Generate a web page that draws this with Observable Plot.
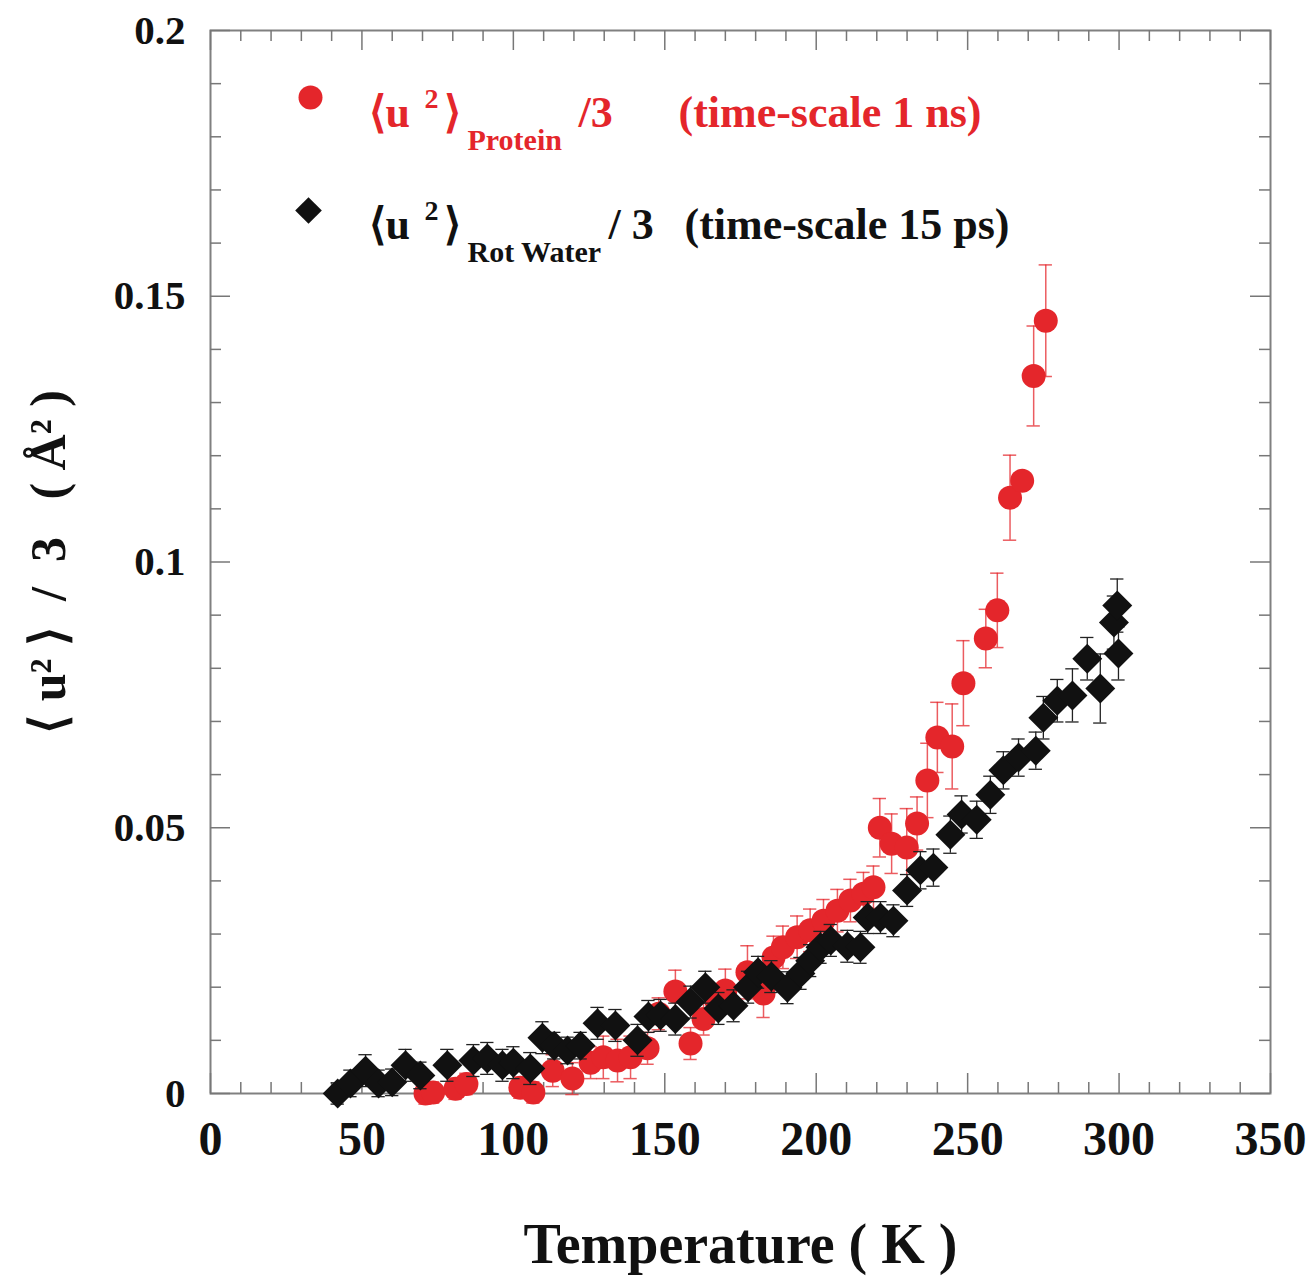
<!DOCTYPE html>
<html>
<head>
<meta charset="utf-8">
<script src="https://cdn.jsdelivr.net/npm/d3@7"></script>
<script src="https://cdn.jsdelivr.net/npm/@observablehq/plot@0.6"></script>
<style>
  body { margin: 0; background: #fff; }
  #chart svg { display: block; }
</style>
</head>
<body>
<div id="chart"></div>
<script>
// ---------- data ----------
const waterT = [42, 46.2, 51.2, 55.5, 60, 64.4, 69.3, 78.2, 86.8, 91.4, 96.4, 100, 105.6, 109.6, 113.5,
  117.9, 122.2, 127.8, 133.7, 141, 144.6, 148.6, 153.5, 158.5, 163.4, 167.7, 172.7, 177.5, 180.8, 185.2,
  190.5, 194.8, 198, 201.4, 204.8, 210.3, 214.6, 217, 221.2, 225.5, 230, 234.4, 238.7, 244.3, 248,
  253, 257.5, 261.8, 266.8, 272.5, 275, 279.6, 284.6, 289.5, 293.8, 298.3, 299.4, 299.8];
const waterU = [0, 0.0019, 0.0043, 0.0019, 0.0021, 0.0053, 0.0034, 0.0053, 0.0062, 0.0066, 0.0053, 0.0058, 0.0047, 0.0105, 0.009,
  0.0081, 0.009, 0.0132, 0.0128, 0.0100, 0.0145, 0.0147, 0.014, 0.0172, 0.0200, 0.016, 0.0165, 0.020, 0.0228, 0.022,
  0.0199, 0.0226, 0.025, 0.0275, 0.0288, 0.0277, 0.0275, 0.0331, 0.0331, 0.0325, 0.0382, 0.042, 0.0425, 0.0487, 0.0525,
  0.0515, 0.0562, 0.0608, 0.0632, 0.0645, 0.0707, 0.0739, 0.0749, 0.0818, 0.0762, 0.0886, 0.0918, 0.0828];
const waterErr = [0.002, 0.0025, 0.003, 0.0025, 0.0025, 0.003, 0.0025, 0.003, 0.003, 0.003, 0.003, 0.003, 0.003, 0.003, 0.0025,
  0.0025, 0.0025, 0.003, 0.003, 0.003, 0.003, 0.003, 0.003, 0.003, 0.003, 0.003, 0.003, 0.003, 0.003, 0.003,
  0.003, 0.003, 0.003, 0.003, 0.003, 0.003, 0.003, 0.003, 0.003, 0.003, 0.003, 0.0035, 0.0035, 0.0035, 0.0035,
  0.0035, 0.0035, 0.0035, 0.0035, 0.0035, 0.004, 0.004, 0.005, 0.004, 0.0065, 0.005, 0.005, 0.005];

const proteinT = [71, 73.5, 80.9, 84.5, 102.3, 106.6, 113, 119.5, 125.5, 129.7, 134.4, 138.7, 144.3, 148, 153.5,
  158.5, 162.8, 167, 170, 177.3, 182.6, 185.9, 189, 193.7, 198, 202.4, 207, 211.3, 215.6, 218.9,
  221, 224.9, 229.9, 233.3, 236.7, 240, 244.9, 248.6, 256, 259.8, 264, 268, 271.8, 275.8];
const proteinU = [0, 0.0002, 0.0009, 0.0018, 0.0011, 0.0002, 0.0043, 0.0028, 0.0058, 0.0068, 0.0062, 0.0068, 0.0085, 0.015, 0.0192,
  0.0094, 0.014, 0.0175, 0.0194, 0.0228, 0.0188, 0.0256, 0.0275, 0.0294, 0.0307, 0.0325, 0.0344, 0.0363, 0.0376, 0.0388,
  0.05, 0.047, 0.0463, 0.0508, 0.0589, 0.067, 0.0653, 0.0772, 0.0856, 0.0909, 0.1121, 0.1153, 0.135, 0.1454];
const proteinErr = [0.002, 0.002, 0.002, 0.002, 0.002, 0.002, 0.003, 0.003, 0.003, 0.004, 0.004, 0.004, 0.003, 0.003, 0.004,
  0.003, 0.003, 0.003, 0.004, 0.005, 0.0045, 0.004, 0.004, 0.004, 0.004, 0.004, 0.004, 0.004, 0.004, 0.004,
  0.0055, 0.0056, 0.0073, 0.005, 0.007, 0.0066, 0.008, 0.008, 0.0055, 0.007, 0.008, 0.001, 0.0094, 0.0105];

const xTicks = [0, 50, 100, 150, 200, 250, 300, 350];
const xTickLabels = ["0", "50", "100", "150", "200", "250", "300", "350"];
const yTicks = [0, 0.05, 0.1, 0.15, 0.2];
const yTickLabels = ["0", "0.05", "0.1", "0.15", "0.2"];
const xMinorStep = 10;
const yMinorStep = 0.01;

const xLabel = "Temperature ( K )";
const yLabel = "⟨ u² ⟩  /  3   ( Å² )";
const legendProtein = ["⟨u", "2", "⟩", "Protein", "/3", "(time-scale 1 ns)"];
const legendWater = ["⟨u", "2", "⟩", "Rot Water", "/ 3", "(time-scale 15 ps)"];

// ---------- layout ----------
const W = 1313, H = 1279;
const mL = 210, mR = 43, mT = 30, mB = 186;
const iW = W - mL - mR, iH = H - mT - mB;
const RED = "#e4262b", BLACK = "#111111";
const FONT = "'Liberation Serif', 'Times New Roman', serif";
const capHalf = 2.2; // K

const water = waterT.map((t, i) => ({T: t, u: waterU[i], e: waterErr[i]}));
const protein = proteinT.map((t, i) => ({T: t, u: proteinU[i], e: proteinErr[i]}));

const xMinor = d3.range(0, 350 + 1e-9, xMinorStep).filter(v => !xTicks.includes(v));
const yMinor = d3.range(0, 0.2 + 1e-9, yMinorStep).map(v => +v.toFixed(4)).filter(v => !yTicks.includes(v));

function lt(text, left, base, size, fill) {
  return Plot.text([text], {
    text: d => d, frameAnchor: "top-left", dx: left - mL, dy: base - mT,
    lineAnchor: "bottom", textAnchor: "start", fontSize: size, fontWeight: "bold",
    fill, fontFamily: FONT
  });
}
function legendRow(parts, base, color) {
  const [a, sup, b, sub, c, d] = parts;
  return [
    lt(a, 368, base, 44, color),
    lt(sup, 424, base - 19, 28, color),
    lt(b, 443, base, 44, color),
    lt(sub, 467, base + 23, 30, color),
    lt(c, color === RED ? 578 : 608, base, 44, color),
    lt(d, color === RED ? 678 : 684, base, 44, color)
  ];
}

const tickStyle = {stroke: "#777", strokeWidth: 1.5};

const chart = Plot.plot({
  width: W, height: H,
  marginLeft: mL, marginRight: mR, marginTop: mT, marginBottom: mB,
  style: {fontFamily: FONT, background: "#fff", color: "#111"},
  x: {domain: [0, 350]},
  y: {domain: [0, 0.2]},
  marks: [
    Plot.frame({stroke: "#808080", strokeWidth: 2}),
    // inward ticks: bottom & top
    Plot.tickX(xTicks, {x: d => d, insetTop: iH - 20, ...tickStyle}),
    Plot.tickX(xMinor, {x: d => d, insetTop: iH - 11, ...tickStyle}),
    Plot.tickX(xTicks, {x: d => d, insetBottom: iH - 20, ...tickStyle}),
    Plot.tickX(xMinor, {x: d => d, insetBottom: iH - 11, ...tickStyle}),
    // inward ticks: left & right
    Plot.tickY(yTicks, {y: d => d, insetRight: iW - 20, ...tickStyle}),
    Plot.tickY(yMinor, {y: d => d, insetRight: iW - 11, ...tickStyle}),
    Plot.tickY(yTicks, {y: d => d, insetLeft: iW - 20, ...tickStyle}),
    Plot.tickY(yMinor, {y: d => d, insetLeft: iW - 11, ...tickStyle}),
    Plot.axisX({ticks: xTicks, tickFormat: d => xTickLabels[xTicks.indexOf(d)], tickSize: 0, tickPadding: 27,
      fontSize: 48, fontWeight: "bold", label: null, fill: "#111"}),
    Plot.axisY({ticks: yTicks, tickFormat: d => yTickLabels[yTicks.indexOf(d)], tickSize: 0, tickPadding: 25,
      fontSize: 41, fontWeight: "bold", label: null, fill: "#111"}),
    // axis titles
    Plot.text([xLabel], {text: d => d, frameAnchor: "bottom", dy: 169, lineAnchor: "bottom",
      fontSize: 56, fontWeight: "bold", fill: "#111"}),
    Plot.text([yLabel], {text: d => d, frameAnchor: "left", dx: -162, rotate: -90, lineAnchor: "middle",
      textAnchor: "middle", fontSize: 50, fontWeight: "bold", fill: "#111"}),
    // protein series
    Plot.ruleX(protein, {x: "T", y1: d => d.u - d.e, y2: d => d.u + d.e, stroke: RED, strokeOpacity: 0.75, strokeWidth: 1.5}),
    Plot.ruleY(protein, {y: d => d.u + d.e, x1: d => d.T - capHalf, x2: d => d.T + capHalf, stroke: RED, strokeOpacity: 0.75, strokeWidth: 1.5}),
    Plot.ruleY(protein, {y: d => d.u - d.e, x1: d => d.T - capHalf, x2: d => d.T + capHalf, stroke: RED, strokeOpacity: 0.75, strokeWidth: 1.5}),
    Plot.dot(protein, {x: "T", y: "u", r: 12, fill: RED, symbol: "circle"}),
    // water series
    Plot.ruleX(water, {x: "T", y1: d => d.u - d.e, y2: d => d.u + d.e, stroke: "#222", strokeWidth: 1.3}),
    Plot.ruleY(water, {y: d => d.u + d.e, x1: d => d.T - capHalf, x2: d => d.T + capHalf, stroke: "#222", strokeWidth: 1.3}),
    Plot.ruleY(water, {y: d => d.u - d.e, x1: d => d.T - capHalf, x2: d => d.T + capHalf, stroke: "#222", strokeWidth: 1.3}),
    Plot.dot(water, {x: "T", y: "u", r: 13.5, fill: BLACK, symbol: "diamond2"}),
    // legend
    Plot.dot([0], {frameAnchor: "top-left", dx: 310 - mL, dy: 97 - mT, r: 12, fill: RED, symbol: "circle"}),
    Plot.dot([0], {frameAnchor: "top-left", dx: 308 - mL, dy: 210 - mT, r: 12, fill: BLACK, symbol: "diamond2"}),
    ...legendRow(legendProtein, 126, RED),
    ...legendRow(legendWater, 238, BLACK)
  ]
});

document.getElementById("chart").appendChild(chart);
</script>
</body>
</html>
